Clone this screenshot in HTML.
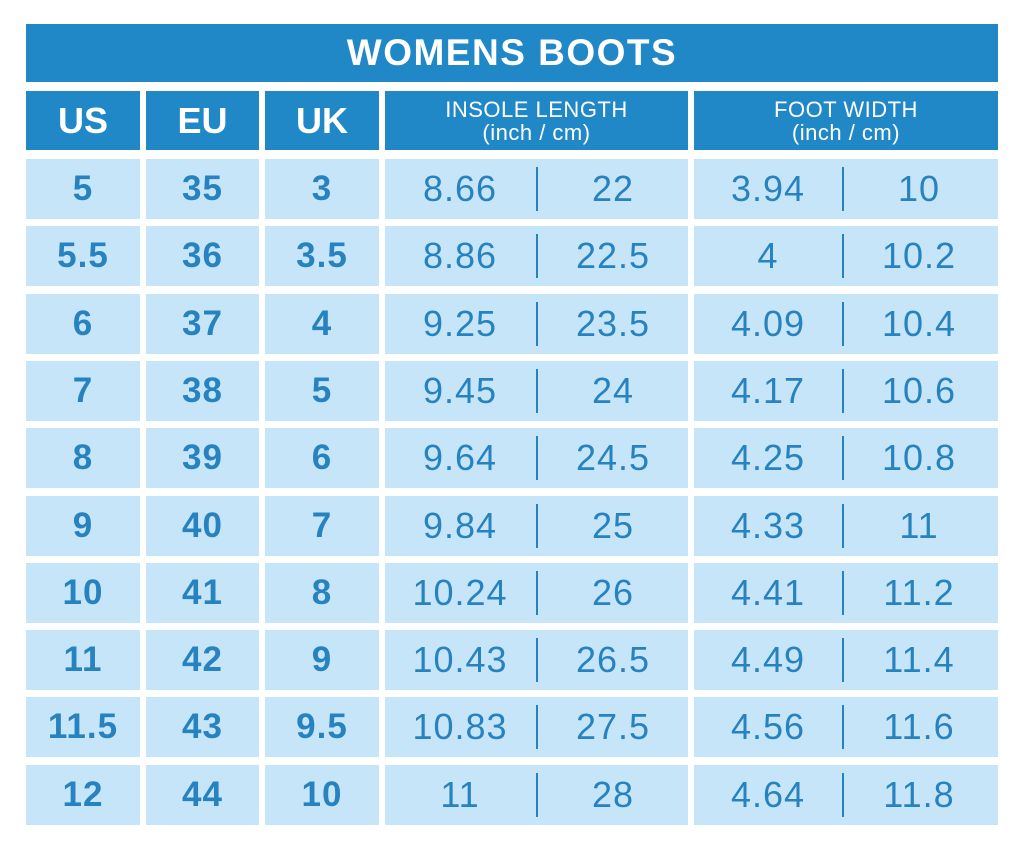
<!DOCTYPE html>
<html><head><style>
body{margin:0;width:1024px;height:856px;background:#fff;position:relative;font-family:"Liberation Sans",sans-serif;overflow:hidden}
.c{position:absolute;display:flex;align-items:center;justify-content:center;box-sizing:border-box}
.h{background:#2188c8;color:#fff;font-weight:bold}
.d{background:#c6e5f8;color:#2783c0;font-size:36px;letter-spacing:1px}
.b{font-weight:bold;font-size:35px}
.sm{font-size:22px;letter-spacing:0.5px;line-height:23px;text-align:center;flex-direction:column;font-weight:normal}
.v{position:absolute;width:2px;background:#2783c0}
</style></head><body>
<div class="c h" style="left:26px;top:24px;width:972px;height:58px;font-size:37px;letter-spacing:1.5px">WOMENS BOOTS</div>
<div class="c h" style="left:26px;top:91px;width:114px;height:59px;font-size:36px">US</div>
<div class="c h" style="left:146px;top:91px;width:113px;height:59px;font-size:36px">EU</div>
<div class="c h" style="left:265px;top:91px;width:114px;height:59px;font-size:36px">UK</div>
<div class="c h sm" style="left:385px;top:91px;width:303px;height:59px"><div>INSOLE LENGTH</div><div>(inch / cm)</div></div>
<div class="c h sm" style="left:694px;top:91px;width:304px;height:59px"><div>FOOT WIDTH</div><div>(inch / cm)</div></div>
<script>
var rows=[["5","35","3","8.66","22","3.94","10"],["5.5","36","3.5","8.86","22.5","4","10.2"],["6","37","4","9.25","23.5","4.09","10.4"],["7","38","5","9.45","24","4.17","10.6"],["8","39","6","9.64","24.5","4.25","10.8"],["9","40","7","9.84","25","4.33","11"],["10","41","8","10.24","26","4.41","11.2"],["11","42","9","10.43","26.5","4.49","11.4"],["11.5","43","9.5","10.83","27.5","4.56","11.6"],["12","44","10","11","28","4.64","11.8"]];
var h="";
rows.forEach(function(r,i){var y=159+Math.round(i*67.3),H=60;
h+='<div class="c d b" style="left:26px;top:'+y+'px;width:114px;height:'+H+'px">'+r[0]+'</div>';
h+='<div class="c d b" style="left:146px;top:'+y+'px;width:113px;height:'+H+'px">'+r[1]+'</div>';
h+='<div class="c d b" style="left:265px;top:'+y+'px;width:114px;height:'+H+'px">'+r[2]+'</div>';
h+='<div class="c d" style="left:385px;top:'+y+'px;width:303px;height:'+H+'px"></div>';
h+='<div class="c d" style="left:385px;top:'+y+'px;width:150px;height:'+H+'px;background:none">'+r[3]+'</div>';
h+='<div class="c d" style="left:538px;top:'+y+'px;width:150px;height:'+H+'px;background:none">'+r[4]+'</div>';
h+='<div class="v" style="left:536px;top:'+(y+8)+'px;height:44px"></div>';
h+='<div class="c d" style="left:694px;top:'+y+'px;width:304px;height:'+H+'px"></div>';
h+='<div class="c d" style="left:694px;top:'+y+'px;width:148px;height:'+H+'px;background:none">'+r[5]+'</div>';
h+='<div class="c d" style="left:845px;top:'+y+'px;width:148px;height:'+H+'px;background:none">'+r[6]+'</div>';
h+='<div class="v" style="left:842px;top:'+(y+8)+'px;height:44px"></div>';
});
document.write(h);
</script>
</body></html>
